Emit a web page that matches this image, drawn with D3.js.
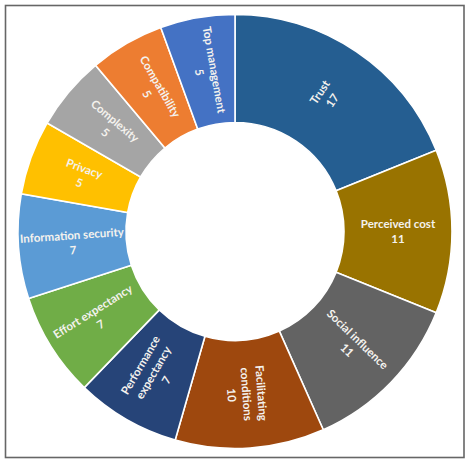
<!DOCTYPE html>
<html>
<head>
<meta charset="utf-8">
<script src="https://cdn.jsdelivr.net/npm/d3@7"></script>
<style>
  html, body { margin: 0; padding: 0; background: #fff; }
  svg { display: block; }
</style>
</head>
<body>
<svg id="chart" width="474" height="467"></svg>
<script>
// factors, clockwise from 12 o'clock
const categories = [
  "Trust", "Perceived cost", "Social influence", "Facilitating conditions",
  "Performance expectancy", "Effort expectancy", "Information security",
  "Privacy", "Complexity", "Compatibility", "Top management"
];
const counts = [17, 11, 11, 10, 7, 7, 7, 5, 5, 5, 5];
// names that break onto two lines
const wrapped = ["Facilitating conditions", "Performance expectancy"];

const palette = [
  "#255e91", "#997300", "#636363", "#9e480e", "#264478", "#70ad47",
  "#5b9bd5", "#ffc000", "#a5a5a5", "#ed7d31", "#4472c4"
];

const svg = d3.select("#chart");
const cx = 235, cy = 231.5;
const rOuter = 217, rInner = 109;

// frame
svg.append("rect")
  .attr("x", 5.5).attr("y", 5.5)
  .attr("width", 458.5).attr("height", 452)
  .attr("fill", "#fff")
  .attr("stroke", "#666")
  .attr("stroke-width", 1.6);

const color = d3.scaleOrdinal().domain(categories).range(palette);

const pie = d3.pie().sort(null).value((d, i) => counts[i]);
const arcs = pie(categories);
const arc = d3.arc().innerRadius(rInner).outerRadius(rOuter);

const g = svg.append("g").attr("transform", `translate(${cx},${cy})`);

g.selectAll("path")
  .data(arcs)
  .join("path")
  .attr("d", arc)
  .attr("fill", (d) => color(d.data))
  .attr("stroke", "#fff")
  .attr("stroke-width", 1.6);

const lineH = 15;
const labels = g.selectAll("g.lbl")
  .data(arcs)
  .join("g")
  .attr("class", "lbl")
  .attr("transform", (d) => {
    const [x, y] = arc.centroid(d);
    let rot = ((d.startAngle + d.endAngle) / 2) * 180 / Math.PI - 90;
    if (rot > 90) rot -= 180;
    return `translate(${x},${y}) rotate(${rot})`;
  });

labels.each(function (d, i) {
  const lines = wrapped.includes(d.data) ? d.data.split(" ") : [d.data];
  lines.push(String(counts[i]));
  const t = d3.select(this).append("text")
    .attr("text-anchor", "middle")
    .attr("font-family", "Lato, 'Open Sans', sans-serif")
    .attr("font-weight", "bold")
    .attr("font-size", "11.5px")
    .attr("fill", "#f4f2ee");
  lines.forEach((s, k) => {
    t.append("tspan")
      .attr("x", 0)
      .attr("y", (k - (lines.length - 1) / 2) * lineH)
      .attr("dy", "0.35em")
      .text(s);
  });
});
</script>
</body>
</html>
